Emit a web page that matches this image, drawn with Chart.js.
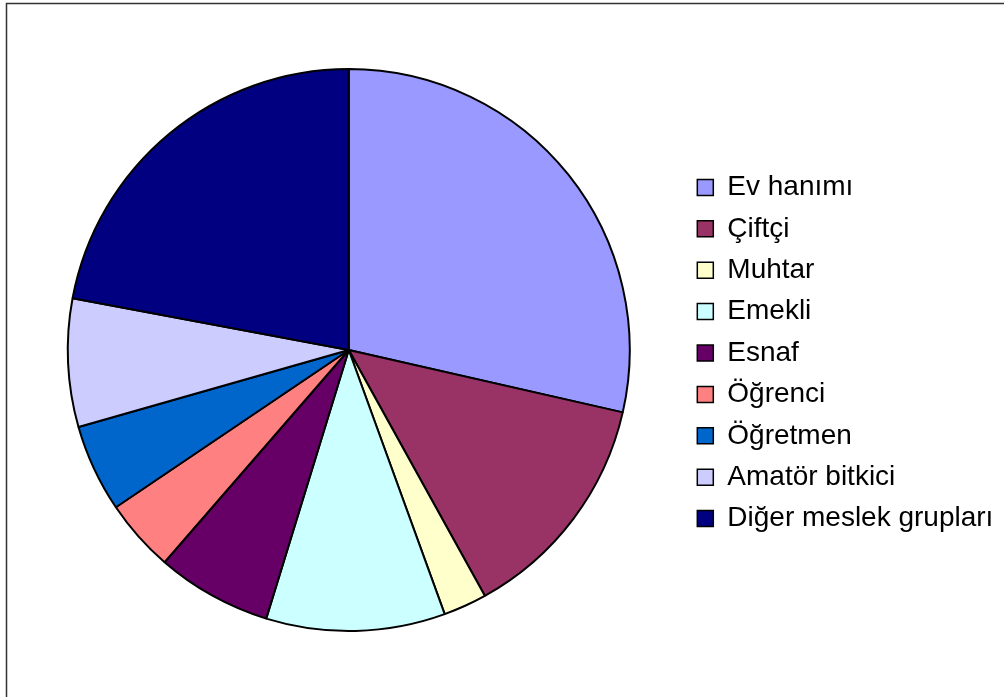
<!DOCTYPE html>
<html>
<head>
<meta charset="utf-8">
<script src="https://cdn.jsdelivr.net/npm/chart.js@4/dist/chart.umd.min.js"></script>
<style>
  html, body { margin: 0; padding: 0; background: #fff; overflow: hidden; }
  #wrap { width: 1004px; height: 697px; position: relative; }
</style>
</head>
<body>
<div id="wrap"><canvas id="c" width="1004" height="697"></canvas></div>
<script>
const categories = ["Ev hanımı", "Çiftçi", "Muhtar", "Emekli", "Esnaf", "Öğrenci", "Öğretmen", "Amatör bitkici", "Diğer meslek grupları"];
const values = [28.56, 13.39, 2.50, 10.29, 6.63, 4.17, 5.04, 7.36, 22.05];
const colors = ["#9999FF", "#993366", "#FFFFCC", "#CCFFFF", "#660066", "#FF8080", "#0066CC", "#CCCCFF", "#000080"];

const framePlugin = {
  id: 'frame',
  beforeDraw(chart) {
    const ctx = chart.ctx;
    ctx.save();
    ctx.fillStyle = '#ffffff';
    ctx.fillRect(0, 0, chart.width, chart.height);
    ctx.strokeStyle = '#333333';
    ctx.lineWidth = 1.5;
    ctx.strokeRect(6.5, 3.5, 3000, 3000);
    ctx.restore();
  }
};

new Chart(document.getElementById('c'), {
  type: 'pie',
  data: {
    labels: categories,
    datasets: [{
      data: values,
      backgroundColor: colors,
      borderColor: '#000000',
      borderWidth: 2,
      hoverOffset: 0
    }]
  },
  options: {
    responsive: false,
    animation: false,
    devicePixelRatio: 1,
    color: '#000000',
    layout: { padding: { top: 68, bottom: 65, left: 13.6, right: 0.6 } },
    plugins: {
      tooltip: { enabled: false },
      legend: {
        position: 'right',
        align: 'center',
        title: {
          display: true,
          text: ' ',
          color: '#000000',
          padding: 0,
          font: { size: 5, lineHeight: 1.2 }
        },
        labels: {
          boxWidth: 16,
          boxHeight: 16,
          padding: 13.4,
          color: '#000000',
          font: { family: "'Liberation Sans', Arial, sans-serif", size: 28, lineHeight: 1.2 },
          generateLabels(chart) {
            const ds = chart.data.datasets[0];
            return chart.data.labels.map((l, i) => ({
              text: l,
              fillStyle: ds.backgroundColor[i],
              strokeStyle: '#000000',
              fontColor: '#000000',
              lineWidth: 1.5,
              hidden: false,
              index: i
            }));
          }
        }
      }
    }
  },
  plugins: [framePlugin]
});
</script>
</body>
</html>
